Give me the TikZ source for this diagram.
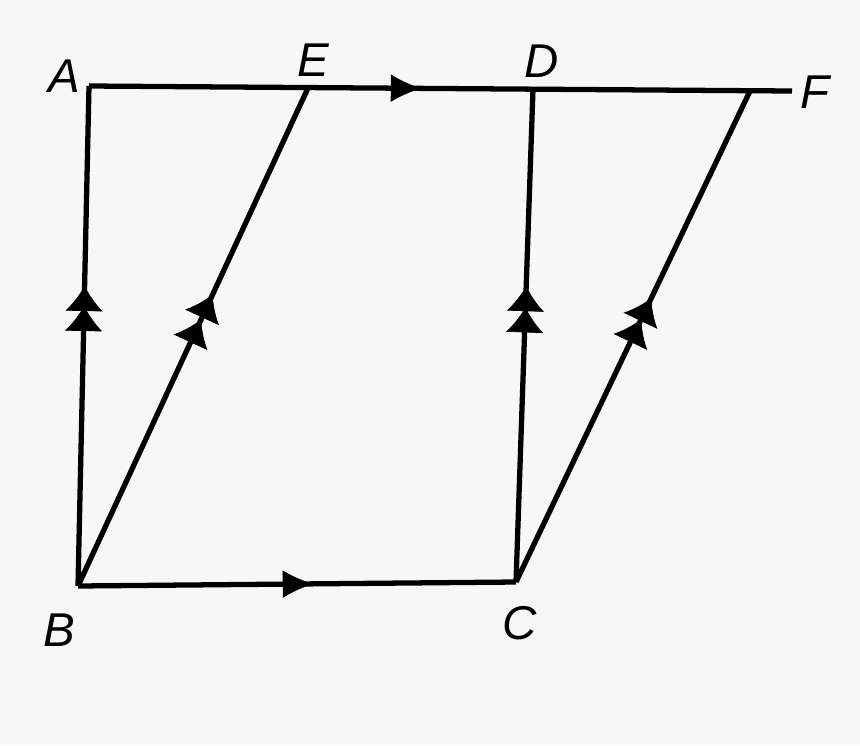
\documentclass[tikz,border=0pt]{standalone}
\usepackage{fontspec}
\setmainfont{Liberation Sans}
\usetikzlibrary{arrows.meta,decorations.markings}
\tikzset{
  seg/.style={line width=3pt, draw=black},
  lbl/.style={font=\fontsize{27}{30}\selectfont\itshape, inner sep=0pt},
  onearrow/.style={postaction={decorate,decoration={markings,
      mark=at position #1 with {\arrow{Latex[length=0.6cm,width=0.55cm]}}}}},
  twoarrow/.style 2 args={postaction={decorate,decoration={markings,
      mark=at position #1 with {\arrow{Latex[length=0.5cm,width=0.75cm]}},
      mark=at position #2 with {\arrow{Latex[length=0.5cm,width=0.75cm]}}}}}
}
\begin{document}
\begin{tikzpicture}[x=0.02cm,y=-0.02cm]
\fill[white!97!black] (0,0) rectangle (860,745);
\useasboundingbox (0,0) rectangle (860,745);
\coordinate (A) at (89,86);
\coordinate (E) at (308,88);
\coordinate (D) at (533,89);
\coordinate (G) at (750,91);
\coordinate (F) at (792,91);
\coordinate (B) at (78,586);
\coordinate (C) at (516,582);
% connectors
\draw[seg] (A) -- (F);
\draw[seg] (A) -- (B);
\draw[seg] (B) -- (C);
\draw[seg] (B) -- (E);
\draw[seg] (C) -- (D);
\draw[seg] (C) -- (G);
% arrows
\path (A) -- (F) [onearrow=0.472];
\path (B) -- (C) [onearrow=0.536];
\path (B) -- (A) [twoarrow={0.56}{0.60}];
\path (B) -- (E) [twoarrow={0.535}{0.585}];
\path (C) -- (D) [twoarrow={0.557}{0.60}];
\path (C) -- (G) [twoarrow={0.535}{0.578}];
% labels
\node[lbl] (lA) at (64,76) {A};
\node[lbl] (lE) at (313,60) {E};
\node[lbl] (lD) at (542,61) {D};
\node[lbl] (lF) at (815,92) {F};
\node[lbl] (lB) at (59,630) {B};
\node[lbl] (lC) at (520,623) {C};
\end{tikzpicture}
\end{document}
